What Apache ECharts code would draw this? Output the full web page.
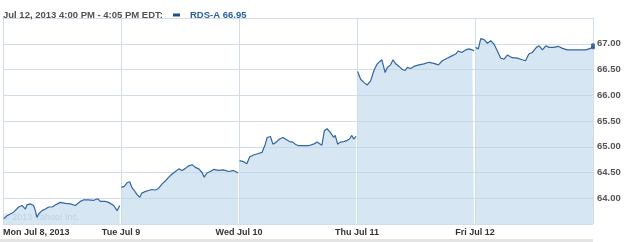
<!DOCTYPE html>
<html>
<head>
<meta charset="utf-8">
<script src="https://cdn.jsdelivr.net/npm/echarts@6/dist/echarts.min.js"></script>
<style>
html,body{margin:0;padding:0;background:#fff;}
#chart{width:625px;height:242px;}
</style>
</head>
<body>
<div id="chart"></div>
<script>
// Trading-day labels (x axis ticks every 390 trading minutes)
var dayLabels = ['Mon Jul 8, 2013', 'Tue Jul 9', 'Wed Jul 10', 'Thu Jul 11', 'Fri Jul 12', ''];
// Price tick values shown on the right axis
var priceTicks = [64, 64.5, 65, 65.5, 66, 66.5, 67];

// [minute since that day's open, price]
var mon = [[2,63.60],[13,63.66],[35,63.73],[52,63.83],[63,63.86],[74,63.79],[79,63.87],[90,63.89],[101,63.86],[107,63.76],[112,63.63],[118,63.70],[129,63.76],[140,63.79],[151,63.83],[162,63.83],[173,63.87],[189,63.92],[206,63.90],[223,63.89],[239,63.86],[256,63.94],[267,63.97],[283,63.97],[300,63.96],[313,63.99],[322,63.94],[338,63.94],[349,63.92],[366,63.86],[377,63.76],[386,63.86]];
var tue = [[1,64.21],[11,64.23],[20,64.30],[29,64.32],[36,64.21],[44,64.15],[53,64.07],[62,64.02],[69,64.10],[80,64.13],[91,64.15],[102,64.17],[113,64.16],[124,64.19],[136,64.28],[147,64.34],[158,64.41],[169,64.47],[180,64.52],[191,64.57],[202,64.54],[213,64.58],[224,64.63],[235,64.65],[246,64.60],[257,64.57],[268,64.50],[275,64.41],[284,64.49],[295,64.52],[306,64.56],[323,64.54],[339,64.55],[356,64.52],[372,64.54],[387,64.49]];
var wed = [[2,64.73],[15,64.71],[26,64.67],[35,64.80],[48,64.84],[59,64.86],[76,64.89],[87,65.05],[93,65.18],[104,65.20],[112,65.05],[123,65.09],[134,65.15],[145,65.18],[156,65.14],[167,65.10],[178,65.09],[186,65.05],[197,65.02],[213,65.02],[230,65.02],[246,65.05],[258,65.09],[274,65.03],[282,65.31],[291,65.35],[302,65.28],[313,65.18],[318,65.22],[326,65.05],[335,65.09],[346,65.10],[357,65.12],[365,65.15],[373,65.22],[379,65.15],[387,65.20]];
var thu = [[2,66.46],[12,66.31],[23,66.25],[34,66.20],[45,66.28],[56,66.48],[67,66.61],[82,66.69],[93,66.44],[100,66.54],[111,66.59],[119,66.69],[128,66.61],[139,66.56],[150,66.50],[159,66.48],[166,66.54],[177,66.52],[188,66.56],[205,66.59],[221,66.61],[238,66.64],[254,66.62],[269,66.59],[282,66.67],[298,66.72],[315,66.77],[326,66.80],[335,66.86],[346,66.83],[359,66.88],[370,66.90],[381,66.88],[387,66.86]];
var fri = [[2,66.93],[11,66.90],[19,67.10],[30,67.08],[41,67.01],[52,67.06],[63,66.99],[74,66.86],[85,66.72],[96,66.70],[107,66.78],[123,66.73],[140,66.72],[156,66.69],[167,66.67],[178,66.80],[189,66.83],[203,66.93],[212,66.96],[223,66.88],[234,66.96],[245,66.93],[261,66.93],[275,66.95],[289,66.91],[305,66.88],[322,66.88],[344,66.88],[366,66.88],[382,66.91],[390,66.95]];

var days = [mon, tue, wed, thu, fri];
var DAY = 390;

var series = days.map(function (d, i) {
  return {
    type: 'line',
    data: d.map(function (p) { return [p[0] + i * DAY, p[1]]; }),
    showSymbol: false,
    symbol: 'none',
    lineStyle: { color: '#3465a0', width: 1.2 },
    areaStyle: { color: '#bbd5e9', opacity: 0.6, origin: 'start' },
    animation: false,
    z: 3
  };
});
var last = fri[fri.length - 1];
series.push({
  type: 'scatter',
  data: [[last[0] + 4 * DAY, last[1]]],
  symbol: 'roundRect',
  symbolSize: [4, 6],
  itemStyle: { color: '#1f4f8c' },
  clip: false,
  animation: false,
  z: 5
});

var chart = echarts.init(document.getElementById('chart'), null, { renderer: 'canvas' });
chart.setOption({
  animation: false,
  backgroundColor: '#ffffff',
  title: {
    left: 3, top: 6, padding: 0,
    text: '{a|Jul 12, 2013 4:00 PM - 4:05 PM EDT:}  {b|}  {c|RDS-A 66.95}',
    textStyle: {
      rich: {
        a: { fontFamily: 'Liberation Sans, Arial, sans-serif', fontWeight: 'bold', fontSize: 9.5, color: '#505050' },
        b: { backgroundColor: '#1f4f8c', width: 7, height: 3 },
        c: { fontFamily: 'Liberation Sans, Arial, sans-serif', fontWeight: 'bold', fontSize: 9.5, color: '#2b5e9d' }
      }
    }
  },
  grid: { left: 2, right: 32, top: 18, bottom: 18, containLabel: false },
  xAxis: {
    type: 'value',
    min: 0, max: 5 * DAY, interval: DAY,
    axisLine: { show: false },
    axisTick: { show: false },
    splitLine: { show: true, lineStyle: { color: '#d3dde7', width: 1 } },
    axisLabel: {
      margin: 4,
      color: '#333333',
      fontFamily: 'Liberation Sans, Arial, sans-serif',
      fontWeight: 'bold',
      fontSize: 9,
      alignMinLabel: 'left',
      formatter: function (v) { return dayLabels[Math.round(v / DAY)]; }
    }
  },
  yAxis: {
    type: 'value',
    position: 'right',
    min: 63.5, max: 67.5, interval: 0.5,
    axisLine: { show: false },
    axisTick: { show: false },
    splitLine: { show: true, lineStyle: { color: '#d3dde7', width: 1 } },
    axisLabel: {
      margin: 4,
      color: '#555555',
      fontFamily: 'Liberation Sans, Arial, sans-serif',
      fontWeight: 'bold',
      fontSize: 9.5,
      formatter: function (v) {
        for (var i = 0; i < priceTicks.length; i++) {
          if (Math.abs(priceTicks[i] - v) < 1e-6) return v.toFixed(2);
        }
        return '';
      }
    }
  },
  graphic: [
    {
      type: 'text', left: 3, top: 213, z: 1,
      style: { text: '\u00a9 2013 Yahoo! Inc.', fill: '#c4ccd4', font: '9px Liberation Sans, Arial, sans-serif' }
    },
    {
      type: 'rect', left: 0, top: 239, z: 1,
      shape: { width: 593, height: 3 },
      style: { fill: '#e4e4e4' }
    }
  ],
  series: series
});
</script>
</body>
</html>
